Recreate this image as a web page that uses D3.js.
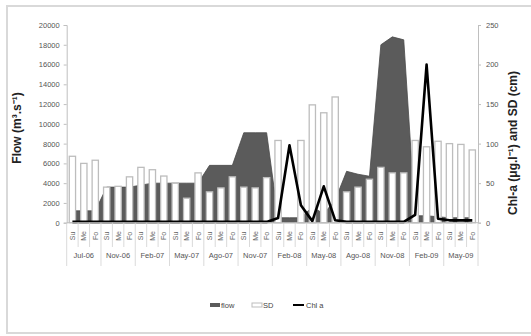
<!DOCTYPE html>
<html>
<head>
<meta charset="utf-8">
<script src="https://cdn.jsdelivr.net/npm/d3@7"></script>
<style>
  body { margin: 0; background: #fff; }
  text { font-family: "Liberation Sans", Arial, sans-serif; }
</style>
</head>
<body>
<div id="chart"></div>
<script>
// groups (sampling campaigns) and sub-categories
var groups = ["Jul-06", "Nov-06", "Feb-07", "May-07", "Ago-07", "Nov-07",
              "Feb-08", "May-08", "Ago-08", "Nov-08", "Feb-09", "May-09"];
var subs = ["Su", "Me", "Fo"];

// flow (m3/s), left axis
var flow = [1200, 1200, 1200, 3600, 3600, 3600, 3800, 4000, 4000, 4000, 4000, 4000,
            5800, 5800, 5800, 9100, 9100, 9100, 500, 500, 500, 1600, 900, 2300,
            5200, 4900, 4700, 18000, 18800, 18500, 700, 700, 600, 500, 500, 500];
// Secchi depth (cm), right axis
var sd = [84, 75, 79, 45, 46, 58, 70, 67, 59, 50, 31, 63,
          39, 44, 58, 45, 44, 57, 104, null, 104, 149, 139, 159,
          39, 45, 55, 70, 63, 63, 104, 96, 103, 100, 99, 92];
// chlorophyll a (ug/l), right axis
var chl = [1, 1, 1, 1, 1, 1, 1, 1, 1, 1, 1, 1,
           1, 1, 1, 1, 1, 1, 6, 98, 22, 2, 46, 3,
           1, 1, 1, 1, 1, 1, 10, 200, 5, 3, 3, 3];

var leftTicks = d3.range(0, 20001, 2000);
var rightTicks = d3.range(0, 251, 50);

var W = 531, H = 336;
var x0 = 66.7, x1 = 478, yTop = 25, yBot = 222.7;

var svg = d3.select("#chart").append("svg")
    .attr("width", W).attr("height", H);

// outer frame
svg.append("rect")
    .attr("x", 7).attr("y", 6).attr("width", 530).attr("height", 327)
    .attr("fill", "#fff").attr("stroke", "#d9d9d9").attr("stroke-width", 2);

var cats = d3.range(groups.length * subs.length);

var x = d3.scaleBand().domain(cats).range([x0, x1]);
var yL = d3.scaleLinear().domain([0, 20000]).range([yBot, yTop]);
var yR = d3.scaleLinear().domain([0, 250]).range([yBot, yTop]);
var cx = function (i) { return x(i) + x.bandwidth() / 2; };

// flow area
var area = d3.area()
    .x(function (d, i) { return cx(i); })
    .y0(yBot)
    .y1(function (d) { return yL(d); });
svg.append("path")
    .datum(flow)
    .attr("d", area)
    .attr("fill", "#5b5b5b")
    .attr("stroke", "#4a4a4a")
    .attr("stroke-width", 0.8);

// SD bars
var bw = x.bandwidth() * 0.55;
svg.selectAll(".sd")
    .data(sd.map(function (d, i) { return {v: d, i: i}; })
        .filter(function (d) { return d.v != null; }))
    .enter().append("rect")
    .attr("class", "sd")
    .attr("x", function (d) { return cx(d.i) - bw / 2; })
    .attr("y", function (d) { return yR(d.v); })
    .attr("width", bw)
    .attr("height", function (d) { return yBot - yR(d.v); })
    .attr("fill", "#fff")
    .attr("stroke", "#bdbdbd")
    .attr("stroke-width", 1.3);

// chl a line
var line = d3.line()
    .x(function (d, i) { return cx(i); })
    .y(function (d) { return yR(d); });
svg.append("path")
    .datum(chl)
    .attr("d", line)
    .attr("fill", "none")
    .attr("stroke", "#000")
    .attr("stroke-width", 2.6)
    .attr("stroke-linejoin", "round");

// left axis
var axL = svg.append("g").attr("transform", "translate(" + x0 + ",0)")
    .call(d3.axisLeft(yL).tickValues(leftTicks).tickSize(3).tickPadding(4)
        .tickFormat(d3.format("d")));
axL.selectAll("path, line").attr("stroke", "#bfbfbf");
axL.selectAll("text").attr("fill", "#555").style("font-size", "7.5px")
    .style("font-family", "Liberation Sans, Arial, sans-serif");

// right axis
var axR = svg.append("g").attr("transform", "translate(" + x1 + ",0)")
    .call(d3.axisRight(yR).tickValues(rightTicks).tickSize(3).tickPadding(5));
axR.selectAll("path, line").attr("stroke", "#bfbfbf");
axR.selectAll("text").attr("fill", "#555").style("font-size", "7.5px")
    .style("font-family", "Liberation Sans, Arial, sans-serif");

// category axis baseline
svg.append("line")
    .attr("x1", x0).attr("x2", x1).attr("y1", yBot).attr("y2", yBot)
    .attr("stroke", "#bfbfbf");

// inner separators and sub labels
cats.forEach(function (c) {
    svg.append("line")
        .attr("x1", x(c)).attr("x2", x(c))
        .attr("y1", yBot).attr("y2", c % 3 === 0 ? 266 : 247)
        .attr("stroke", "#d0d0d0").attr("stroke-width", 0.8);
    svg.append("text")
        .attr("transform", "translate(" + (cx(c) + 2.5) + ",236) rotate(-90)")
        .attr("text-anchor", "middle")
        .attr("fill", "#666")
        .style("font-size", "7px")
        .text(subs[c % 3]);
});
svg.append("line")
    .attr("x1", x1).attr("x2", x1).attr("y1", yBot).attr("y2", 266)
    .attr("stroke", "#d0d0d0").attr("stroke-width", 0.8);

// group labels
groups.forEach(function (g, gi) {
    svg.append("text")
        .attr("x", x(gi * 3) + x.bandwidth() * 1.5)
        .attr("y", 258)
        .attr("text-anchor", "middle")
        .attr("fill", "#555")
        .style("font-size", "7.5px")
        .text(g);
});

// axis titles
svg.append("text")
    .attr("transform", "translate(21,128) rotate(-90)")
    .attr("text-anchor", "middle")
    .style("font-size", "12px").style("font-weight", "bold")
    .attr("fill", "#222")
    .text("Flow (m³.s⁻¹)");
svg.append("text")
    .attr("transform", "translate(517,143) rotate(-90)")
    .attr("text-anchor", "middle")
    .style("font-size", "12px").style("font-weight", "bold")
    .attr("fill", "#222")
    .text("Chl-a (μg.l⁻¹) and SD (cm)");

// legend
var lg = svg.append("g").attr("transform", "translate(0,305)");
lg.append("rect").attr("x", 210).attr("y", -2).attr("width", 10).attr("height", 4)
    .attr("fill", "#5b5b5b");
lg.append("text").attr("x", 221).attr("y", 2.5).style("font-size", "7.5px").attr("fill", "#444").text("flow");
lg.append("rect").attr("x", 252).attr("y", -2).attr("width", 10).attr("height", 4)
    .attr("fill", "#fff").attr("stroke", "#bdbdbd").attr("stroke-width", 1);
lg.append("text").attr("x", 263).attr("y", 2.5).style("font-size", "7.5px").attr("fill", "#444").text("SD");
lg.append("line").attr("x1", 293).attr("x2", 304).attr("y1", 0).attr("y2", 0)
    .attr("stroke", "#000").attr("stroke-width", 2);
lg.append("text").attr("x", 306).attr("y", 2.5).style("font-size", "7.5px").attr("fill", "#444").text("Chl a");
</script>
</body>
</html>
